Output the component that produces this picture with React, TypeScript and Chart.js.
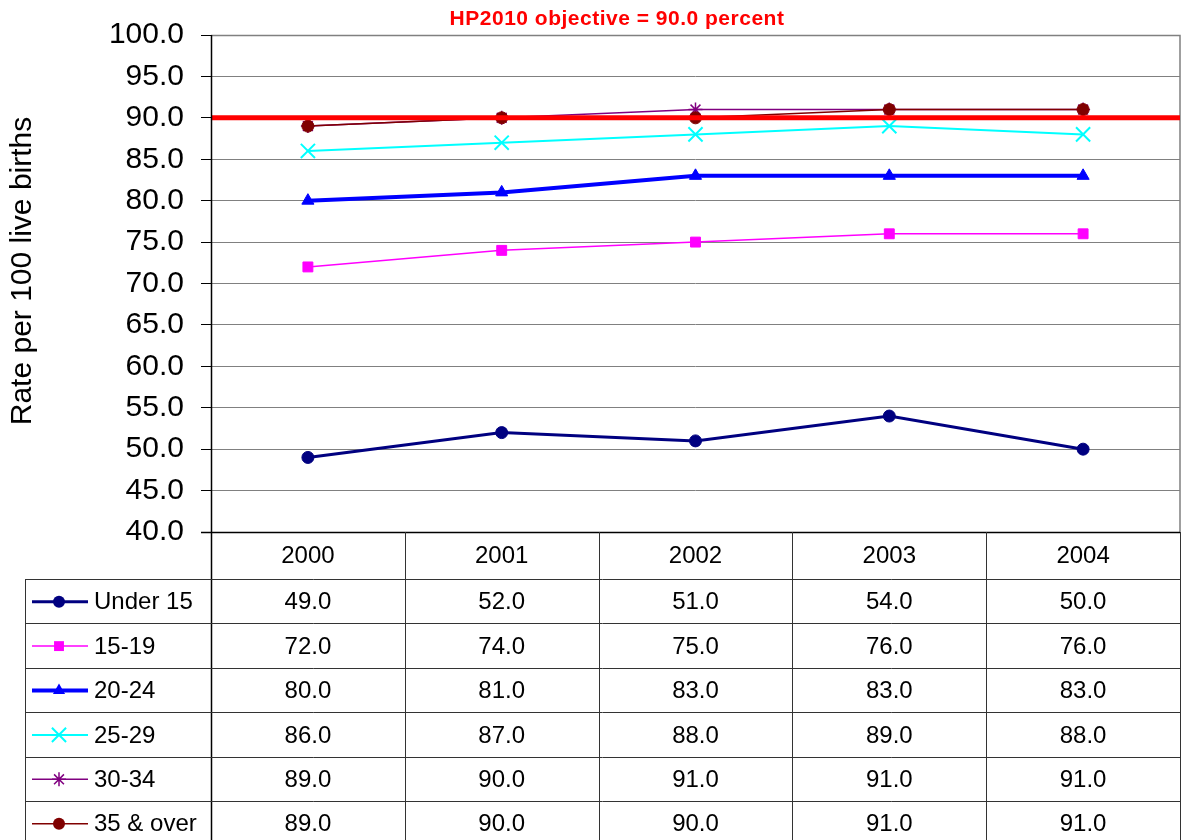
import React, { useEffect, useRef } from "react";
import { Chart, registerables } from "chart.js";

Chart.register(...registerables);

// ---- data ----
const YEARS = ["2000", "2001", "2002", "2003", "2004"];
const SERIES_NAMES = ["Under 15", "15-19", "20-24", "25-29", "30-34", "35 & over"];
const UNDER_15 = [49, 52, 51, 54, 50];
const AGE_15_19 = [72, 74, 75, 76, 76];
const AGE_20_24 = [80, 81, 83, 83, 83];
const AGE_25_29 = [86, 87, 88, 89, 88];
const AGE_30_34 = [89, 90, 91, 91, 91];
const AGE_35_OVER = [89, 90, 90, 91, 91];
const SERIES_VALUES = [UNDER_15, AGE_15_19, AGE_20_24, AGE_25_29, AGE_30_34, AGE_35_OVER];
const OBJECTIVE = 90;
const TITLE = "HP2010 objective = 90.0 percent";
const Y_TITLE = "Rate per 100 live births";
const Y_MIN = 40;
const Y_MAX = 100;
const Y_STEP = 5;

// ---- styles ----
const FONT = '"Liberation Sans", Arial, sans-serif';
const STYLES = [
  { color: "#000080", width: 3, point: "circle", radius: 6, pbw: 1 },
  { color: "#FF00FF", width: 1.5, point: "rect", radius: 7, pbw: 1 },
  { color: "#0000FF", width: 4, point: "triangle", radius: 7, pbw: 1 },
  { color: "#00FFFF", width: 2, point: "crossRot", radius: 10, pbw: 2 },
  { color: "#800080", width: 1.5, point: "star", radius: 7, pbw: 1.5 },
  { color: "#800000", width: 1.5, point: "circle", radius: 6, pbw: 1 },
];

function drawMarker(ctx: CanvasRenderingContext2D, s: any, x: number, y: number, r: number) {
  ctx.save();
  ctx.fillStyle = s.color;
  ctx.strokeStyle = s.color;
  ctx.lineWidth = s.pbw;
  ctx.beginPath();
  if (s.point === "circle") {
    ctx.arc(x, y, r, 0, Math.PI * 2);
    ctx.fill();
  } else if (s.point === "rect") {
    const h = r * Math.SQRT1_2;
    ctx.rect(x - h, y - h, 2 * h, 2 * h);
    ctx.fill();
  } else if (s.point === "triangle") {
    ctx.moveTo(x, y - r);
    ctx.lineTo(x + r * Math.sin(Math.PI / 3), y + r / 2);
    ctx.lineTo(x - r * Math.sin(Math.PI / 3), y + r / 2);
    ctx.closePath();
    ctx.fill();
  } else if (s.point === "crossRot") {
    const o = r * Math.SQRT1_2;
    ctx.moveTo(x - o, y - o);
    ctx.lineTo(x + o, y + o);
    ctx.moveTo(x - o, y + o);
    ctx.lineTo(x + o, y - o);
    ctx.stroke();
  } else if (s.point === "star") {
    const o = r * Math.SQRT1_2;
    ctx.moveTo(x - o, y - o);
    ctx.lineTo(x + o, y + o);
    ctx.moveTo(x - o, y + o);
    ctx.lineTo(x + o, y - o);
    ctx.moveTo(x, y - r);
    ctx.lineTo(x, y + r);
    ctx.moveTo(x - r, y);
    ctx.lineTo(x + r, y);
    ctx.stroke();
  }
  ctx.restore();
}

const framePlugin = {
  id: "frame",
  beforeDatasetsDraw(chart: any) {
    const { ctx, chartArea } = chart;
    ctx.save();
    ctx.strokeStyle = "#808080";
    ctx.lineWidth = 1.5;
    ctx.beginPath();
    ctx.moveTo(chartArea.left, Math.round(chartArea.top) + 0.5);
    ctx.lineTo(chartArea.right, Math.round(chartArea.top) + 0.5);
    ctx.lineTo(chartArea.right, chartArea.bottom);
    ctx.stroke();
    ctx.restore();
  },
  afterDatasetsDraw(chart: any) {
    const { ctx, chartArea, scales } = chart;
    const y = scales.y.getPixelForValue(OBJECTIVE);
    ctx.save();
    ctx.strokeStyle = "#FF0000";
    ctx.lineWidth = 5;
    ctx.beginPath();
    ctx.moveTo(chartArea.left, y);
    ctx.lineTo(chartArea.right, y);
    ctx.stroke();
    ctx.restore();
  },
  afterDraw(chart: any) {
    const { ctx, chartArea, scales } = chart;
    const H = chart.height;
    const L = chartArea.left;
    const R = chartArea.right;
    const B = chartArea.bottom;
    const xs = scales.x;
    const colW = (R - L) / YEARS.length;
    const headerH = 47;
    const rowH = 44.4;
    const legendLeft = 25;
    ctx.save();

    // title
    ctx.fillStyle = "#FF0000";
    ctx.font = `bold 21px ${FONT}`;
    ctx.textAlign = "center";
    ctx.textBaseline = "alphabetic";
    (ctx as any).letterSpacing = "0.5px";
    ctx.fillText(TITLE, 617, 25);
    (ctx as any).letterSpacing = "0px";

    // y title
    ctx.save();
    ctx.translate(23, 271);
    ctx.rotate(-Math.PI / 2);
    ctx.fillStyle = "#000";
    ctx.font = `30px ${FONT}`;
    ctx.textAlign = "center";
    ctx.textBaseline = "middle";
    ctx.fillText(Y_TITLE, 0, 0);
    ctx.restore();

    // axes lines
    ctx.strokeStyle = "#000";
    ctx.lineWidth = 1.5;
    ctx.beginPath();
    ctx.moveTo(L - 10, Math.round(B) + 0.5);
    ctx.lineTo(R, Math.round(B) + 0.5);
    ctx.moveTo(Math.round(L) + 0.5, chartArea.top);
    ctx.lineTo(Math.round(L) + 0.5, H);
    ctx.stroke();

    // table grid
    ctx.strokeStyle = "#333";
    ctx.lineWidth = 1;
    ctx.beginPath();
    for (let i = 1; i <= YEARS.length; i++) {
      const x = Math.round(L + i * colW) + 0.5;
      ctx.moveTo(x, B);
      ctx.lineTo(x, H);
    }
    for (let r = 0; r < SERIES_NAMES.length; r++) {
      const y = Math.round(B + headerH + r * rowH) + 0.5;
      ctx.moveTo(legendLeft, y);
      ctx.lineTo(R, y);
    }
    ctx.moveTo(legendLeft + 0.5, B + headerH);
    ctx.lineTo(legendLeft + 0.5, H);
    ctx.stroke();

    // header text
    ctx.fillStyle = "#000";
    ctx.font = `24px ${FONT}`;
    ctx.textAlign = "center";
    ctx.textBaseline = "middle";
    YEARS.forEach((yr, i) => {
      ctx.fillText(yr, xs.getPixelForValue(i), B + headerH / 2 + 1);
    });

    // rows
    SERIES_NAMES.forEach((name, r) => {
      const cy = B + headerH + r * rowH + rowH / 2 + 1.5;
      const s = STYLES[r];
      // legend sample
      ctx.save();
      ctx.strokeStyle = s.color;
      ctx.lineWidth = s.width;
      ctx.beginPath();
      ctx.moveTo(32, cy - 1);
      ctx.lineTo(88, cy - 1);
      ctx.stroke();
      ctx.restore();
      drawMarker(ctx, s, 59, cy - 1, s.radius);
      ctx.fillStyle = "#000";
      ctx.textAlign = "left";
      ctx.fillText(name, 94, cy);
      ctx.textAlign = "center";
      SERIES_VALUES[r].forEach((v, i) => {
        ctx.fillText(v.toFixed(1), xs.getPixelForValue(i), cy);
      });
    });
    ctx.restore();
  },
};

export default function App() {
  const ref = useRef<HTMLCanvasElement | null>(null);
  useEffect(() => {
    if (!ref.current) return;
    const n = SERIES_NAMES.length;
    const chart = new Chart(ref.current, {
      type: "line",
      data: {
        labels: YEARS,
        datasets: SERIES_NAMES.map((name, i) => ({
          label: name,
          data: SERIES_VALUES[i],
          borderColor: STYLES[i].color,
          backgroundColor: STYLES[i].color,
          borderWidth: STYLES[i].width,
          pointStyle: STYLES[i].point as any,
          pointRadius: STYLES[i].radius,
          pointHoverRadius: STYLES[i].radius,
          pointBorderWidth: STYLES[i].pbw,
          pointBackgroundColor: STYLES[i].color,
          pointBorderColor: STYLES[i].color,
          tension: 0,
          fill: false,
          order: n - i,
        })),
      },
      options: {
        responsive: false,
        animation: false,
        devicePixelRatio: 1,
        layout: { autoPadding: false, padding: { left: 0, top: 31, right: 8, bottom: 308 } },
        plugins: {
          legend: { display: false },
          title: { display: false },
          tooltip: { enabled: false },
        },
        scales: {
          x: {
            type: "category",
            display: false,
            offset: true,
          },
          y: {
            min: Y_MIN,
            max: Y_MAX,
            afterFit: (scale: any) => {
              scale.width = 211;
            },
            border: { display: false },
            grid: {
              color: "#808080",
              lineWidth: 1,
              drawTicks: true,
              tickLength: 10,
              tickColor: "#000",
            },
            ticks: {
              stepSize: Y_STEP,
              padding: 17,
              color: "#000",
              font: { family: FONT, size: 30 },
              callback: (v: any) => Number(v).toFixed(1),
            },
          },
        },
      },
      plugins: [framePlugin],
    });
    return () => chart.destroy();
  }, []);
  return (
    <div style={{ position: "absolute", left: 0, top: 0, width: 1188, height: 840, background: "#fff" }}>
      <canvas ref={ref} width={1188} height={840} style={{ width: 1188, height: 840, display: "block" }} />
    </div>
  );
}
